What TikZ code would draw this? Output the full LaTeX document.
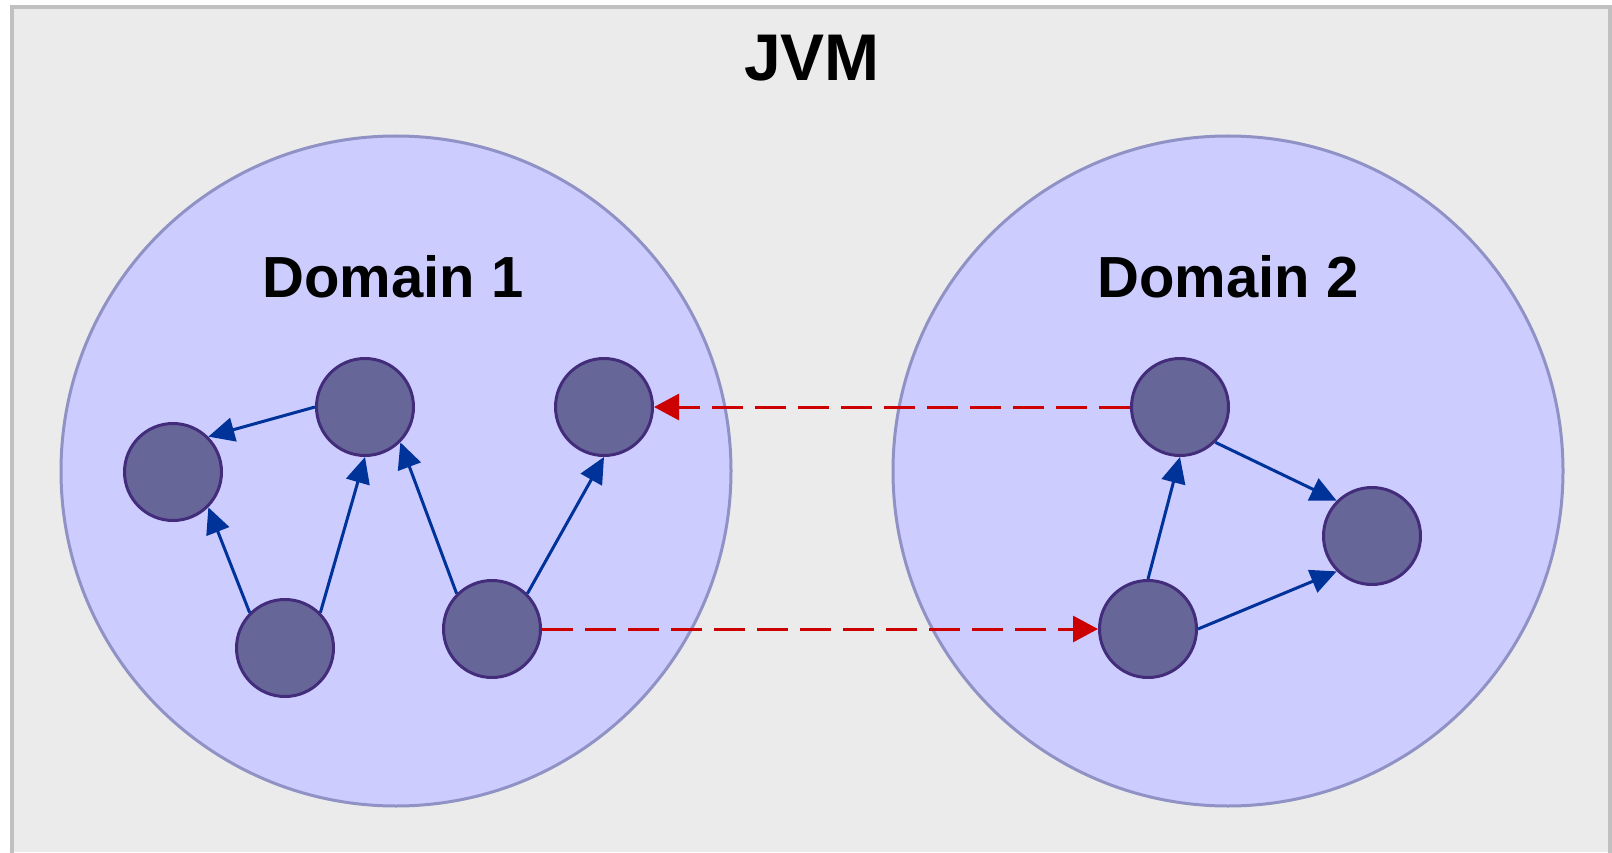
\documentclass[tikz,border=0pt]{standalone}
\usepackage{fontspec}
\setmainfont{Liberation Sans}
\usetikzlibrary{arrows.meta}
\definecolor{panelfill}{HTML}{EBEBEB}
\definecolor{panelline}{HTML}{C0C0C0}
\definecolor{domfill}{HTML}{CCCCFF}
\definecolor{domline}{HTML}{9092C6}
\definecolor{objfill}{HTML}{666699}
\definecolor{objline}{HTML}{432D7A}
\definecolor{refblue}{HTML}{003399}
\definecolor{refred}{HTML}{CC0000}
\begin{document}
\begin{tikzpicture}[x=1pt,y=-1pt,
  domcircle/.style={circle,fill=domfill,draw=domline,line width=3pt,minimum size=670pt,inner sep=0pt},
  obj/.style={circle,fill=objfill,draw=objline,line width=3pt,minimum size=97pt,inner sep=0pt},
  ref/.style={draw=refblue,line width=3pt,-{Triangle[length=26pt,width=24pt]}},
  xref/.style={draw=refred,line width=3pt,dash pattern=on 31pt off 12pt,-{Triangle[length=25pt,width=26pt]}},
  title/.style={font=\bfseries\fontsize{66}{70}\selectfont,anchor=base,inner sep=0pt},
  domtitle/.style={font=\bfseries\fontsize{58}{62}\selectfont,anchor=base,inner sep=0pt}]
\useasboundingbox (0,0) rectangle (1612,853);
% JVM panel
\fill[panelfill] (12,7) rectangle (1610,852);
\draw[panelline,line width=4pt] (12,853) -- (12,7) -- (1610,7) -- (1610,853);
\node[title] (jvm) at (812,81) {JVM};
% domains
\node[domcircle] (d1) at (396,471) {};
\node[domcircle] (d2) at (1228,471) {};
\node[domtitle] (t1) at (393,297) {Domain 1};
\node[domtitle] (t2) at (1228,297) {Domain 2};
% objects of domain 1
\node[obj] (a) at (173,472) {};
\node[obj] (b) at (365,407) {};
\node[obj] (c) at (604,407) {};
\node[obj] (d) at (285,648) {};
\node[obj] (e) at (492,629) {};
% objects of domain 2
\node[obj] (f) at (1180,407) {};
\node[obj] (g) at (1372,536) {};
\node[obj] (h) at (1148,629) {};
% references inside each domain (fixed connection points on the perimeter)
\draw[ref] (b.west) -- (a.45);
\draw[ref] (d.135) -- (a.-45);
\draw[ref] (d.45) -- (b.south);
\draw[ref] (e.135) -- (b.-45);
\draw[ref] (e.45) -- (c.south);
\draw[ref] (f.-45) -- (g.135);
\draw[ref] (h.north) -- (f.south);
\draw[ref] (h.east) -- (g.-135);
% references across domains
\draw[xref] (e.east) -- (h.west);
\draw[xref] (f.west) -- (c.east);
\end{tikzpicture}
\end{document}
